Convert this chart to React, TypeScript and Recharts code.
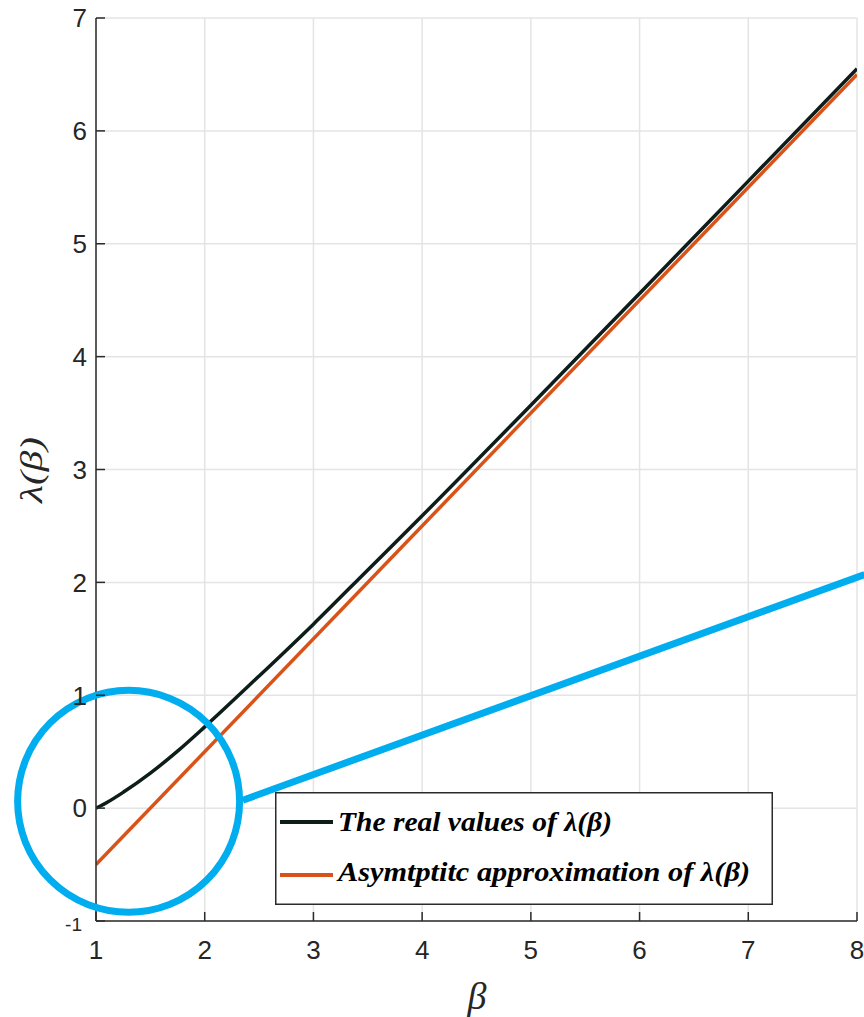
import React from 'react';
import {
  LineChart,
  Line,
  XAxis,
  YAxis,
  CartesianGrid,
  ReferenceDot,
  ReferenceLine,
  Legend,
} from 'recharts';

// ---- data ----
const betaValues = [1, 1.1, 1.25, 1.5, 1.75, 2, 2.5, 3, 3.5, 4, 5, 6, 7, 8];
const realValues = [0, 0.05, 0.14, 0.31, 0.505, 0.72, 1.17, 1.63, 2.11, 2.59, 3.57, 4.56, 5.555, 6.55];
const asymBeta = [1, 8];
const asymValues = [-0.5, 6.5];
const xTicks = [1, 2, 3, 4, 5, 6, 7, 8];
const yTicks = [-1, 0, 1, 2, 3, 4, 5, 6, 7];
const seriesNames = ['The real values of λ(β)', 'Asymtptitc approximation of λ(β)'];
const xLabel = 'β';
const yLabel = 'λ(β)';
// annotation (hand-drawn highlight) in data coordinates
const circleCenter = { x: 1.3, y: 0.06 };
const pointerLine = [
  { x: 2.35, y: 0.07 },
  { x: 8.07, y: 2.07 },
];

const realData = betaValues.map((b, i) => ({ beta: b, real: realValues[i] }));
const asymData = asymBeta.map((b, i) => ({ beta: b, asym: asymValues[i] }));

const AXIS = '#2b2b2b';
const TXT = '#262626';
const REAL = '#0d1d1a';
const ASYM = '#d95319';
const BLUE = '#00adef';
const SANS = '"Liberation Sans", Arial, Helvetica, sans-serif';
const SERIF = '"Liberation Serif", "Times New Roman", serif';
const seriesColors = [REAL, ASYM];
const legendTextWidths = [274, 412];

const BottomTick = (props: any) => {
  const { x, y, payload } = props;
  return (
    <g>
      <line x1={x} y1={y} x2={x} y2={y - 9} stroke={AXIS} strokeWidth={1.5} />
      <text x={x} y={y + 38} textAnchor="middle" fontSize={26} fill={TXT} fontFamily={SANS}>
        {payload.value}
      </text>
    </g>
  );
};

const TopTick = (props: any) => {
  const { x, y } = props;
  return <line x1={x} y1={y} x2={x} y2={y + 9} stroke={AXIS} strokeWidth={1.5} />;
};

const LeftTick = (props: any) => {
  const { x, y, payload } = props;
  const small = payload.value === -1;
  return (
    <g>
      <line x1={x} y1={y} x2={x + 9} y2={y} stroke={AXIS} strokeWidth={1.5} />
      <text
        x={small ? x - 14 : x - 9}
        y={small ? y + 3 : y}
        textAnchor="end"
        dy="0.36em"
        fontSize={small ? 19 : 26}
        fill={TXT}
        fontFamily={SANS}
      >
        {payload.value}
      </text>
    </g>
  );
};

const RightTick = (props: any) => {
  const { x, y } = props;
  return <line x1={x} y1={y} x2={x - 9} y2={y} stroke={AXIS} strokeWidth={1.5} />;
};

const renderLegend = (props: any) => {
  const payload: any[] = props.payload || [];
  const items = seriesNames.map((name, i) => {
    const entry = payload.find((p) => p && p.value === name);
    return { color: (entry && entry.color) || seriesColors[i], label: name };
  });
  return (
    <svg width={498} height={113} style={{ display: 'block' }}>
      <rect x={0.75} y={0.75} width={496.5} height={111.5} fill="#ffffff" stroke={AXIS} strokeWidth={1.5} />
      {items.map((it, i) => (
        <g key={i}>
          <line x1={5} y1={30 + i * 53} x2={58} y2={30 + i * 53} stroke={it.color} strokeWidth={4} />
          <text
            x={63}
            y={39 + i * 50}
            fontSize={28}
            fontWeight="bold"
            fontStyle="italic"
            fontFamily={SERIF}
            fill="#000"
            textLength={legendTextWidths[i]}
            lengthAdjust="spacingAndGlyphs"
          >
            {it.label}
          </text>
        </g>
      ))}
    </svg>
  );
};

const YLabel = () => {
  const cx = 31;
  const cy = 470;
  return (
    <text
      x={cx}
      y={cy}
      textAnchor="middle"
      dominantBaseline="central"
      transform={`rotate(-90, ${cx}, ${cy})`}
      fontSize={32}
      fontStyle="italic"
      fontFamily={SERIF}
      fill={TXT}
      textLength={66}
      lengthAdjust="spacingAndGlyphs"
    >
      {yLabel}
    </text>
  );
};

const XLabel = () => (
  <text x={477} y={1009} textAnchor="middle" fontSize={38} fontStyle="italic" fontFamily={SERIF} fill={TXT}>
    {xLabel}
  </text>
);

export default function App() {
  return (
    <div style={{ position: 'absolute', left: 0, top: 0, width: 864, height: 1017, background: '#fff' }}>
      <LineChart width={864} height={1017} margin={{ top: 18, right: 7, bottom: 0, left: 0 }}>
        <CartesianGrid stroke="#e4e4e4" strokeWidth={1.5} />
        <XAxis
          dataKey="beta"
          type="number"
          domain={[1, 8]}
          ticks={xTicks}
          interval={0}
          allowDataOverflow
          height={96}
          tickSize={0}
          tickMargin={0}
          tick={<BottomTick />}
          tickLine={false}
          axisLine={{ stroke: AXIS, strokeWidth: 1.5 }}
          label={<XLabel />}
        />
        <XAxis
          xAxisId="top"
          orientation="top"
          dataKey="beta"
          type="number"
          domain={[1, 8]}
          ticks={xTicks}
          interval={0}
          height={0}
          tickSize={0}
          tickMargin={0}
          tick={<TopTick />}
          tickLine={false}
          axisLine={{ stroke: AXIS, strokeWidth: 1.5 }}
        />
        <YAxis
          type="number"
          domain={[-1, 7]}
          ticks={yTicks}
          interval={0}
          allowDataOverflow
          width={96}
          tickSize={0}
          tickMargin={0}
          tick={<LeftTick />}
          tickLine={false}
          axisLine={{ stroke: AXIS, strokeWidth: 1.5 }}
          label={<YLabel />}
        />
        <YAxis
          yAxisId="right"
          orientation="right"
          type="number"
          domain={[-1, 7]}
          ticks={yTicks}
          interval={0}
          width={0}
          tickSize={0}
          tickMargin={0}
          tick={<RightTick />}
          tickLine={false}
          axisLine={{ stroke: AXIS, strokeWidth: 1.5 }}
        />
        <Line
          data={realData}
          dataKey="real"
          name={seriesNames[0]}
          type="monotone"
          stroke={REAL}
          strokeWidth={3.5}
          dot={false}
          activeDot={false}
          isAnimationActive={false}
        />
        <Line
          data={asymData}
          dataKey="asym"
          name={seriesNames[1]}
          type="linear"
          stroke={ASYM}
          strokeWidth={3.5}
          dot={false}
          activeDot={false}
          isAnimationActive={false}
        />
        <ReferenceDot
          x={circleCenter.x}
          y={circleCenter.y}
          r={111}
          fill="none"
          stroke={BLUE}
          strokeWidth={7}
          ifOverflow="visible"
        />
        <ReferenceLine segment={pointerLine} stroke={BLUE} strokeWidth={7} ifOverflow="visible" />
        <Legend
          layout="horizontal"
          verticalAlign="middle"
          align="center"
          content={renderLegend}
          wrapperStyle={{ left: 275, top: 792, width: 498, height: 113 }}
        />
      </LineChart>
    </div>
  );
}
